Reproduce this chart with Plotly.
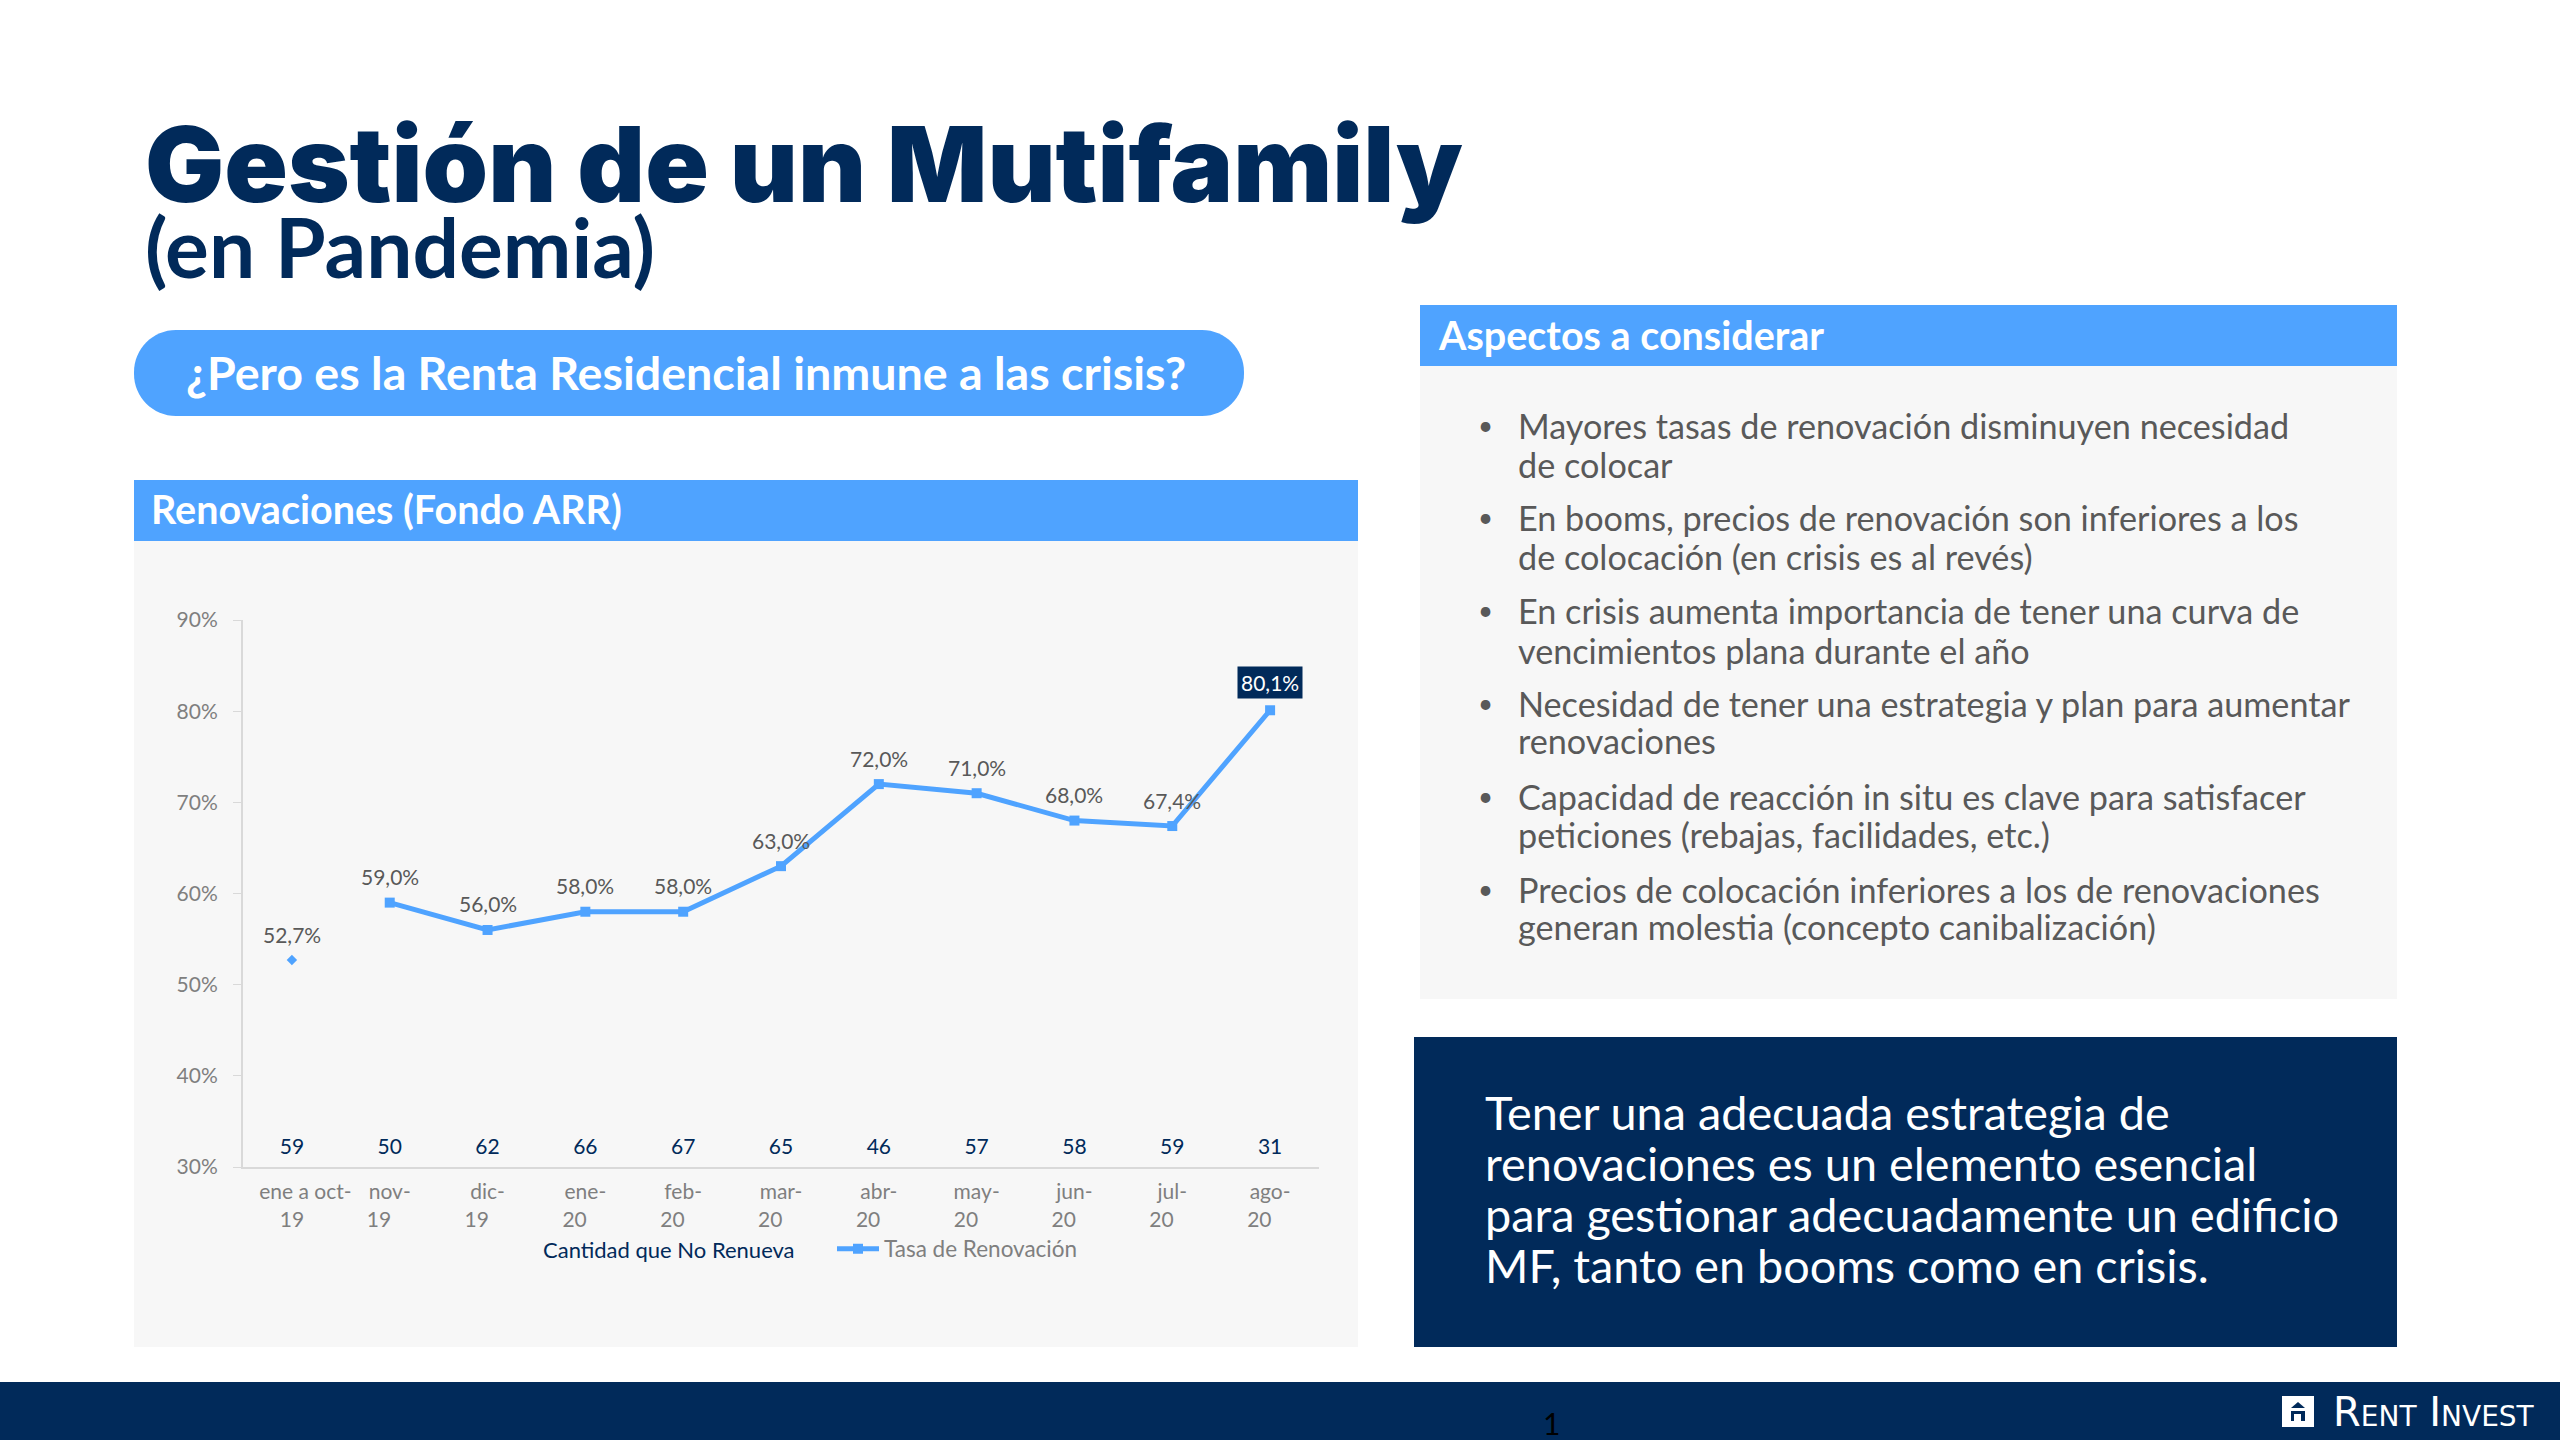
import plotly.graph_objects as go

NAVY = "#012A5A"
BLUE = "#4FA3FF"
PANEL = "#F7F7F7"
GREY = "#595959"
FONT = "Lato"

months = ["ene a oct-19", "nov-19", "dic-19", "ene-20", "feb-20", "mar-20",
          "abr-20", "may-20", "jun-20", "jul-20", "ago-20"]
# the labels wrap like in the slide, with the year pulled a bit to the left
NB = "\u00a0"
month_labels = [NB * 5 + "ene a oct-<br>19"] + [m.replace("-", "-<br>") + NB * 4 for m in months[1:]]
rate = [52.7, 59.0, 56.0, 58.0, 58.0, 63.0, 72.0, 71.0, 68.0, 67.4, 80.1]
no_renueva = [59, 50, 62, 66, 67, 65, 46, 57, 58, 59, 31]
count_row_y = [32.0] * len(months)

bullets = [
    ["Mayores tasas de renovación disminuyen necesidad", "de colocar"],
    ["En booms, precios de renovación son inferiores a los", "de colocación (en crisis es al revés)"],
    ["En crisis aumenta importancia de tener una curva de", "vencimientos plana durante el año"],
    ["Necesidad de tener una estrategia y plan para aumentar", "renovaciones"],
    ["Capacidad de reacción in situ es clave para satisfacer", "peticiones (rebajas, facilidades, etc.)"],
    ["Precios de colocación inferiores a los de renovaciones", "generan molestia (concepto canibalización)"],
]
bullet_y = [[425, 464], [517, 556], [610, 650], [703, 740], [796, 834], [889, 926]]
closing = ["Tener una adecuada estrategia de", "renovaciones es un elemento esencial",
           "para gestionar adecuadamente un edificio", "MF, tanto en booms como en crisis."]
closing_y = [1112, 1163, 1214, 1265]

# plot area in page pixels
L, R, T, B = 243, 1319, 620, 1167


def px(x):
    return (x - L) / (R - L)


def py(y):
    return (B - y) / (B - T)


def rect(x0, y0, x1, y1, color):
    return dict(type="rect", xref="paper", yref="paper", x0=px(x0), x1=px(x1), y0=py(y0), y1=py(y1),
                fillcolor=color, line_width=0, layer="below")


def pill(x0, y0, x1, y1, r, color):
    k = r * 0.45
    pts = [("M", x0 + r, y0), ("L", x1 - r, y0),
           ("C", x1 - k, y0, x1, y0 + k, x1, y0 + r), ("L", x1, y1 - r),
           ("C", x1, y1 - k, x1 - k, y1, x1 - r, y1), ("L", x0 + r, y1),
           ("C", x0 + k, y1, x0, y1 - k, x0, y1 - r), ("L", x0, y0 + r),
           ("C", x0, y0 + k, x0 + k, y0, x0 + r, y0)]
    path = ""
    for p in pts:
        coords = p[1:]
        path += p[0] + " " + " ".join(f"{px(coords[i])},{py(coords[i + 1])}" for i in range(0, len(coords), 2)) + " "
    return dict(type="path", xref="paper", yref="paper", path=path + "Z", fillcolor=color, line_width=0, layer="below")


def label(x, y, text, size, color=GREY, weight=400, anchor="left", family=FONT):
    return dict(xref="paper", yref="paper", x=px(x), y=py(y), text=text, showarrow=False, xanchor=anchor,
                yanchor="middle", borderpad=0, font=dict(family=family, size=size, color=color, weight=weight))


fig = go.Figure()
fig.add_trace(go.Scatter(x=months, y=count_row_y, mode="text", text=[str(v) for v in no_renueva],
                         textfont=dict(family=FONT, size=21, color=NAVY), textposition="middle center",
                         showlegend=False, name="Cantidad que No Renueva"))
fig.add_trace(go.Scatter(x=months[:1], y=rate[:1], mode="markers", showlegend=False,
                         marker=dict(symbol="diamond", size=8, color=BLUE), name="Tasa de Renovación"))
fig.add_trace(go.Scatter(x=months[1:], y=rate[1:], mode="lines+markers", name="Tasa de Renovación",
                         line=dict(color=BLUE, width=5), marker=dict(symbol="square", size=10, color=BLUE)))

shapes = [
    rect(134, 480, 1358, 541, BLUE),
    rect(134, 541, 1358, 1347, PANEL),
    rect(1420, 305, 2397, 366, BLUE),
    rect(1420, 366, 2397, 999, PANEL),
    rect(1414, 1037, 2397, 1347, NAVY),
    rect(0, 1382, 2560, 1440, NAVY),
    rect(2282, 1396, 2314, 1427, "white"),
    pill(134, 330, 1244, 416, 42, BLUE),
]
# house icon of the logo
shapes.append(dict(type="path", xref="paper", yref="paper", line_width=0, fillcolor=NAVY,
                   path="M %f,%f L %f,%f L %f,%f Z" % (px(2291), py(1408), px(2298), py(1402), px(2305), py(1408))))
shapes.append(rect(2291, 1411, 2305, 1414, NAVY))
shapes.append(rect(2291, 1414, 2294, 1421, NAVY))
shapes.append(rect(2301, 1414, 2305, 1421, NAVY))

annotations = [
    label(144, 164, "Gestión de un Mutifamily", 105, NAVY, 900, family="Inter"),
    label(144, 246, "(en Pandemia)", 82, NAVY, 700),
    label(686, 372, "¿Pero es la Renta Residencial inmune a las crisis?", 46.6, "white", 700, "center"),
    label(150, 508, "Renovaciones (Fondo ARR)", 39.5, "white", 700),
    label(1437, 334, "Aspectos a considerar", 39.5, "white", 700),
    label(542, 1249, "Cantidad que No Renueva", 22, NAVY),
    label(1551, 1423, "1", 30, "black", 400, "center"),
    label(2332, 1412, "Rent Invest", 40, "white", 400, family="DejaVu Sans"),
]
annotations[-1]["font"]["variant"] = "small-caps"

for lines, ys in zip(bullets, bullet_y):
    annotations.append(label(1477, ys[0], "•", 26, GREY))
    for line, y in zip(lines, ys):
        annotations.append(label(1517, y, line, 34.2, GREY))
for line, y in zip(closing, closing_y):
    annotations.append(label(1484, y, line, 46.8, "white"))

# data labels
for m, v in zip(months, rate):
    txt = f"{v:.1f}%".replace(".", ",")
    last = m == months[-1]
    annotations.append(dict(x=m, y=v, text=txt, showarrow=False, yshift=28 if last else 26,
                            bgcolor=NAVY if last else None, borderpad=3,
                            font=dict(family=FONT, size=21, color="white" if last else GREY)))

fig.update_layout(
    width=2560, height=1440,
    margin=dict(l=L, r=2560 - R, t=T, b=1440 - B, pad=0),
    paper_bgcolor="white", plot_bgcolor="rgba(0,0,0,0)",
    shapes=shapes, annotations=annotations,
    showlegend=True,
    legend=dict(xref="paper", yref="paper", x=px(832), y=py(1249), xanchor="left", yanchor="middle",
                bgcolor="rgba(0,0,0,0)", font=dict(family=FONT, size=22.5, color="#7F7F7F"), itemwidth=42),
)
fig.update_xaxes(type="category", categoryorder="array", categoryarray=months, range=[-0.5, 10.5],
                 tickmode="array", tickvals=months, ticktext=month_labels, ticklabelstandoff=5,
                 showgrid=False, showline=True, linecolor="#D9D9D9", linewidth=2, ticks="",
                 tickfont=dict(family=FONT, size=21, color="#7F7F7F"), automargin=False, zeroline=False)
fig.update_yaxes(range=[30, 90], tick0=30, dtick=10, ticksuffix="%", showgrid=False, showline=True,
                 linecolor="#D9D9D9", linewidth=2, ticks="outside", ticklen=8, tickcolor="#D9D9D9",
                 ticklabelstandoff=11,
                 tickfont=dict(family=FONT, size=21, color="#7F7F7F"), automargin=False, zeroline=False)

fig.write_html("out.html", config={"displayModeBar": False},
               post_script="document.body.style.margin='0';document.body.style.overflow='hidden';")
